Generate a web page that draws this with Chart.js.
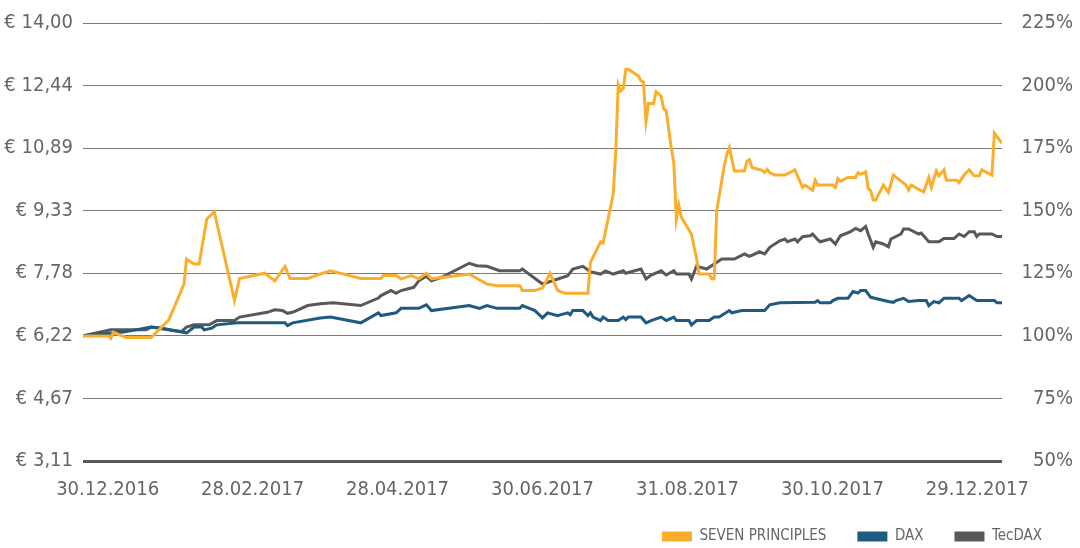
<!DOCTYPE html>
<html>
<head>
<meta charset="utf-8">
<script src="https://cdn.jsdelivr.net/npm/chart.js@4.4.1/dist/chart.umd.min.js"></script>
<style>
  html, body { margin: 0; padding: 0; background: #fff; }
  #wrap { width: 1080px; height: 548px; position: relative; }
</style>
</head>
<body>
<div id="wrap"><canvas id="kursChart"></canvas></div>
<script>
// Kursentwicklung 30.12.2016 - 29.12.2017, Tage seit 30.12.2016
const xLabels = ['30.12.2016', '28.02.2017', '28.04.2017', '30.06.2017', '31.08.2017', '30.10.2017', '29.12.2017'];
const pctTicks = [50, 75, 100, 125, 150, 175, 200, 225];
const startPrice = 14 / 2.25; // 100 % = € 6,22

// SEVEN PRINCIPLES in €
const sevenDays = [
    0, 10, 11, 12, 17, 27, 34, 40, 41, 44,
    46, 49, 52, 60, 62, 72, 76, 80, 82, 89,
    94, 98, 110, 118, 119, 124, 126, 130, 133, 136,
    138, 153, 160, 164, 173, 174, 179, 182, 185, 188,
    191, 200, 201, 205, 206, 210, 211, 212, 213, 214,
    215, 216, 220, 221, 222, 223, 224, 226, 227, 229,
    230, 231, 233, 234, 235, 236, 237, 241, 243, 244,
    248, 249, 250, 251, 254, 255, 256, 258, 262, 263,
    264, 265, 269, 270, 271, 272, 274, 276, 278, 282,
    283, 285, 286, 289, 290, 291, 297, 298, 299, 300,
    303, 306, 307, 308, 310, 311, 312, 313, 314, 317,
    319, 321, 326, 327, 328, 332, 333, 335, 336, 338,
    339, 341, 342, 346, 347, 349, 351, 353, 355, 356,
    360, 361, 364
];
const sevenValues = [
    6.22, 6.22, 6.16, 6.31, 6.18, 6.18, 6.62, 7.51, 8.13, 8.01,
    8.01, 9.12, 9.31, 7.10, 7.65, 7.78, 7.59, 7.95, 7.65, 7.65,
    7.76, 7.84, 7.65, 7.65, 7.72, 7.72, 7.64, 7.72, 7.64, 7.78,
    7.64, 7.76, 7.51, 7.47, 7.47, 7.35, 7.35, 7.41, 7.78, 7.35,
    7.28, 7.28, 8.05, 8.56, 8.53, 9.74, 10.78, 12.47, 12.31, 12.37,
    12.85, 12.85, 12.68, 12.56, 12.53, 11.56, 12.00, 12.00, 12.29, 12.18,
    11.87, 11.81, 10.90, 10.53, 9.12, 9.47, 9.17, 8.75, 8.15, 7.76,
    7.76, 7.64, 7.64, 9.33, 10.45, 10.74, 10.90, 10.32, 10.32, 10.57,
    10.60, 10.41, 10.34, 10.28, 10.36, 10.28, 10.22, 10.22, 10.22, 10.35,
    10.20, 9.91, 9.97, 9.84, 10.09, 9.97, 9.97, 9.91, 10.13, 10.07,
    10.16, 10.16, 10.28, 10.24, 10.30, 9.89, 9.83, 9.60, 9.60, 9.97,
    9.79, 10.22, 9.97, 9.85, 9.97, 9.83, 9.80, 10.16, 9.91, 10.32,
    10.20, 10.35, 10.09, 10.09, 10.03, 10.22, 10.35, 10.20, 10.20, 10.35,
    10.22, 11.26, 11.01
];

// DAX in %
const daxDays = [
    0, 16, 25, 27, 31, 39, 41, 44, 47, 48,
    51, 53, 61, 80, 81, 83, 94, 98, 110, 117,
    118, 124, 126, 133, 136, 138, 153, 157, 160, 164,
    173, 174, 179, 182, 184, 188, 189, 192, 193, 194,
    198, 200, 201, 202, 205, 206, 208, 212, 214, 215,
    216, 221, 223, 225, 229, 231, 234, 235, 240, 241,
    243, 248, 250, 252, 256, 257, 261, 270, 272, 276,
    290, 291, 292, 296, 297, 299, 303, 305, 307, 308,
    310, 312, 319, 321, 322, 325, 327, 331, 334, 335,
    337, 339, 341, 347, 348, 351, 354, 361, 362, 364
];
const daxValues = [
    100, 101.5, 103.1, 103.5, 103.1, 101.5, 101.2, 103.5, 103.5, 102.4,
    103.1, 104.4, 105.2, 105.2, 104.1, 105.2, 107.1, 107.5, 105.2, 109.2,
    108.1, 109.2, 111.0, 111.0, 112.4, 110.1, 112.1, 111.0, 112.1, 111.0,
    111.0, 112.1, 110.1, 107.2, 109.2, 108.1, 108.4, 109.2, 108.4, 110.1,
    110.1, 108.1, 109.2, 107.5, 106.1, 107.5, 106.1, 106.1, 107.5, 106.5,
    107.5, 107.5, 105.2, 106.1, 107.5, 106.1, 107.5, 106.1, 106.1, 104.4,
    106.1, 106.1, 107.5, 107.5, 110.1, 109.2, 110.1, 110.1, 112.4, 113.2,
    113.4, 114.1, 113.2, 113.2, 114.1, 115.0, 115.0, 117.7, 117.1, 118.1,
    118.1, 115.4, 113.7, 113.4, 114.1, 115.0, 113.7, 114.1, 114.1, 112.1,
    113.7, 113.2, 115.0, 115.0, 114.1, 116.1, 114.1, 114.1, 113.2, 113.2
];

// TecDAX in %
const tecDays = [
    0, 11, 25, 27, 31, 39, 41, 44, 50, 53,
    60, 62, 73, 76, 79, 81, 83, 89, 94, 99,
    110, 117, 118, 122, 124, 126, 131, 133, 136, 138,
    142, 153, 156, 160, 165, 173, 174, 182, 189, 192,
    194, 198, 201, 205, 207, 210, 214, 215, 221, 223,
    225, 229, 231, 234, 235, 240, 241, 243, 247, 253,
    258, 262, 264, 268, 270, 272, 276, 278, 279, 282,
    283, 285, 288, 289, 291, 292, 296, 298, 300, 304,
    306, 308, 310, 311, 313, 314, 317, 319, 320, 324,
    325, 327, 331, 332, 335, 339, 341, 345, 347, 349,
    351, 353, 354, 355, 360, 362, 364
];
const tecValues = [
    100, 102.4, 102.4, 103.5, 102.8, 101.7, 103.5, 104.4, 104.4, 106.1,
    106.1, 107.5, 109.4, 110.4, 110.1, 109.0, 109.4, 112.1, 112.8, 113.2,
    112.1, 115.1, 116.1, 118.1, 117.0, 118.1, 119.4, 122.0, 123.8, 122.0,
    123.4, 129.0, 128.0, 127.8, 126.0, 126.0, 126.7, 120.7, 123.0, 124.0,
    126.7, 127.8, 125.6, 124.7, 125.9, 124.7, 126.0, 125.0, 126.7, 122.7,
    124.3, 126.0, 124.3, 126.0, 124.7, 124.7, 122.7, 127.8, 126.7, 130.7,
    130.7, 132.7, 131.8, 133.6, 132.7, 135.4, 138.0, 138.7, 137.6, 138.7,
    137.6, 139.6, 140.0, 140.7, 138.4, 137.6, 138.7, 136.7, 140.0, 141.6,
    142.9, 142.0, 143.7, 140.7, 135.4, 137.6, 136.7, 135.6, 138.7, 140.7,
    142.7, 142.7, 140.7, 141.1, 137.6, 137.6, 138.9, 138.9, 140.7, 139.7,
    141.6, 141.6, 139.7, 140.7, 140.7, 139.7, 139.7
];

const toPoints = (days, values) => days.map((d, i) => ({ x: d, y: values[i] }));

const textColor = '#666666';
const fontFamily = "'Liberation Sans Narrow', 'DejaVu Sans Condensed', sans-serif";

const ctx = document.getElementById('kursChart');
new Chart(ctx, {
    type: 'line',
    data: {
        datasets: [
            {
                label: 'SEVEN PRINCIPLES',
                data: toPoints(sevenDays, sevenValues),
                yAxisID: 'y',
                borderColor: '#FBAE2B',
                backgroundColor: '#FBAE2B',
                borderWidth: 3
            },
            {
                label: 'DAX',
                data: toPoints(daxDays, daxValues),
                yAxisID: 'y2',
                borderColor: '#1F5A80',
                backgroundColor: '#1F5A80',
                borderWidth: 3
            },
            {
                label: 'TecDAX',
                data: toPoints(tecDays, tecValues),
                yAxisID: 'y2',
                borderColor: '#595959',
                backgroundColor: '#595959',
                borderWidth: 3
            }
        ]
    },
    options: {
        responsive: true,
        maintainAspectRatio: false,
        animation: false,
        layout: { padding: { top: 23, right: 7, bottom: 0, left: 0 } },
        elements: {
            point: { radius: 0, hoverRadius: 0 },
            line: { tension: 0 }
        },
        plugins: {
            tooltip: { enabled: false },
            legend: {
                position: 'bottom',
                align: 'end',
                maxHeight: 50,
                labels: {
                    boxWidth: 30,
                    boxHeight: 10,
                    padding: 31,
                    color: textColor,
                    font: { family: fontFamily, size: 15 },
                    generateLabels: chart => Chart.defaults.plugins.legend.labels.generateLabels(chart)
                        .map(item => Object.assign(item, { lineWidth: 0 }))
                }
            }
        },
        scales: {
            x: {
                type: 'linear',
                display: false,
                min: 0,
                max: 364
            },
            xl: {
                type: 'linear',
                position: 'bottom',
                min: -0.17,
                max: 6.17,
                grid: { display: false, drawTicks: false },
                border: { display: false },
                afterBuildTicks: scale => {
                    scale.ticks = xLabels.map((l, i) => ({ value: i }));
                },
                afterFit: scale => { scale.height = 37; },
                ticks: {
                    padding: 17,
                    maxRotation: 0,
                    autoSkip: false,
                    color: textColor,
                    font: { family: fontFamily, size: 20 },
                    callback: (v, i) => xLabels[i]
                }
            },
            y: {
                type: 'linear',
                position: 'left',
                min: startPrice * 0.5,
                max: startPrice * 2.25,
                afterBuildTicks: scale => {
                    scale.ticks = pctTicks.map(p => ({ value: startPrice * p / 100 }));
                },
                afterFit: scale => { scale.width = 83; },
                grid: {
                    drawTicks: false,
                    color: c => c.index === 0 ? '#595959' : '#7a7a7a',
                    lineWidth: c => c.index === 0 ? 3 : 1
                },
                border: { display: false },
                ticks: {
                    padding: 10,
                    color: textColor,
                    font: { family: fontFamily, size: 20 },
                    callback: v => '€ ' + v.toFixed(2).replace('.', ',')
                }
            },
            y2: {
                type: 'linear',
                position: 'right',
                min: 50,
                max: 225,
                afterFit: scale => { scale.width = 71; },
                grid: { display: false, drawTicks: false },
                border: { display: false },
                ticks: {
                    stepSize: 25,
                    crossAlign: 'far',
                    color: textColor,
                    font: { family: fontFamily, size: 20 },
                    callback: v => v + '%'
                }
            }
        }
    }
});
</script>
</body>
</html>
